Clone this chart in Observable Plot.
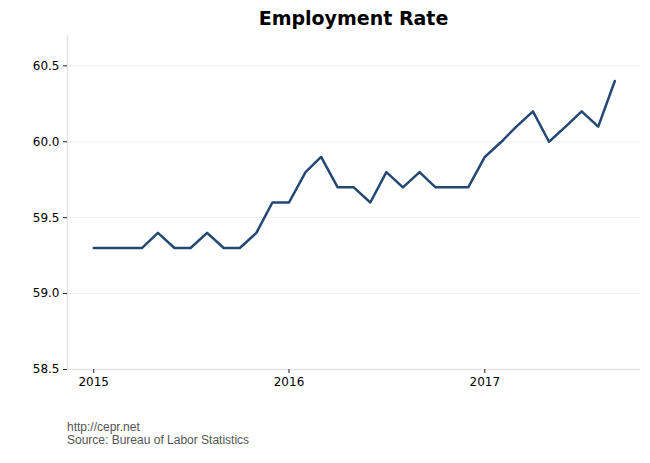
<!DOCTYPE html>
<html>
<head>
<meta charset="utf-8">
<script src="https://cdn.jsdelivr.net/npm/d3@7"></script>
<script src="https://cdn.jsdelivr.net/npm/@observablehq/plot@0.6"></script>
<style>
  body { margin: 0; background: #fff; width: 650px; height: 463px; overflow: hidden; }
  #title { height: 30px; margin: 0; padding-left: 67px; padding-right: 10px; box-sizing: border-box; width: 650px;
    text-align: center; font-family: "DejaVu Sans", sans-serif; font-weight: bold; font-size: 19px; line-height: 36px; color: #000; }
  #caption { margin-top: 22px; padding-left: 67px; font-family: "Liberation Sans", Arial, sans-serif; font-size: 12px; line-height: 13px; color: #555; }
</style>
</head>
<body>
<div id="title">Employment Rate</div>
<div id="chart"></div>
<div id="caption">http://cepr.net<br>Source: Bureau of Labor Statistics</div>
<script>
const months = [
  "2015-01","2015-02","2015-03","2015-04","2015-05","2015-06","2015-07","2015-08","2015-09","2015-10","2015-11","2015-12",
  "2016-01","2016-02","2016-03","2016-04","2016-05","2016-06","2016-07","2016-08","2016-09","2016-10","2016-11","2016-12",
  "2017-01","2017-02","2017-03","2017-04","2017-05","2017-06","2017-07","2017-08","2017-09"
];
const rates = [
  59.3,59.3,59.3,59.3,59.4,59.3,59.3,59.4,59.3,59.3,59.4,59.6,
  59.6,59.8,59.9,59.7,59.7,59.6,59.8,59.7,59.8,59.7,59.7,59.7,
  59.9,60.0,60.1,60.2,60.0,60.1,60.2,60.1,60.4
];
const yTicks = [58.5, 59.0, 59.5, 60.0, 60.5];
const xTickYears = ["2015-01-01","2016-01-01","2017-01-01"];

const data = months.map((m, i) => ({date: new Date(m + "-01T00:00:00"), value: rates[i]}));
const xDomain = [new Date("2014-11-13T00:00:00"), new Date("2017-10-19T00:00:00")];
const yDomain = [58.5, 60.7];
const xTicks = xTickYears.map(d => new Date(d + "T00:00:00"));

const chart = Plot.plot({
  width: 650,
  height: 369,
  marginTop: 5,
  marginLeft: 67,
  marginRight: 10,
  marginBottom: 30,
  style: {fontFamily: "DejaVu Sans, sans-serif", fontSize: "12px", color: "#000", background: "#fff"},
  x: {type: "time", domain: xDomain},
  y: {domain: yDomain},
  marks: [
    Plot.gridY(yTicks, {stroke: "#f0f0f0", strokeOpacity: 1}),
    Plot.ruleX([xDomain[0]], {stroke: "#e3e3e3", strokeWidth: 1.5}),
    Plot.ruleY([yDomain[0]], {stroke: "#e3e3e3", strokeWidth: 1.5}),
    Plot.axisY(yTicks, {tickSize: 4, tickPadding: 4, tickFormat: d3.format(".1f"), label: null, stroke: "#222"}),
    Plot.axisX(xTicks, {tickSize: 4, tickPadding: 4, tickFormat: d3.timeFormat("%Y"), label: null, stroke: "#222"}),
    Plot.lineY(data, {x: "date", y: "value", stroke: "#234874", strokeWidth: 2.5})
  ]
});
document.getElementById("chart").appendChild(chart);
</script>
</body>
</html>
